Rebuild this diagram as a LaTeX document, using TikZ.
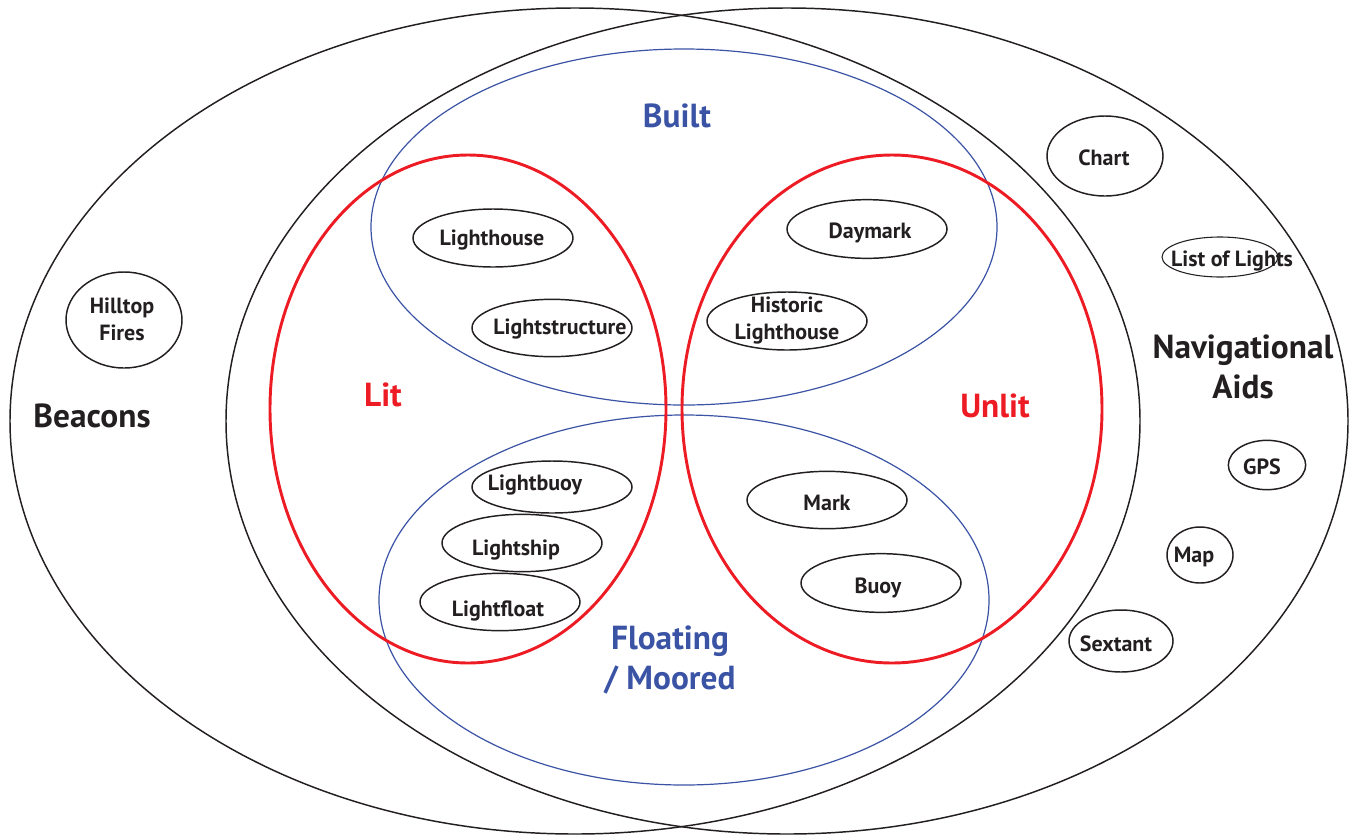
\documentclass[tikz,border=0pt]{standalone}
\usepackage{fontspec}
\setmainfont{PT Sans}
\usetikzlibrary{shapes.geometric}
\definecolor{litred}{HTML}{ED1C24}
\definecolor{setblue}{HTML}{3A53A4}
\definecolor{ink}{HTML}{231F20}
\tikzset{
  outer/.style={draw=ink, line width=1.1pt},
  redset/.style={draw=litred, line width=2.2pt},
  blueset/.style={draw=setblue, line width=0.9pt},
  ring/.style={ellipse, draw=ink, line width=1.1pt, inner sep=0pt},
  itemtext/.style={align=center, inner sep=0pt, text=ink, yshift=-1.8pt,
    font=\fontsize{16.5}{20}\selectfont\bfseries},
  biglabel/.style={align=center, font=\fontsize{25}{30}\selectfont\bfseries},
}
\begin{document}
\begin{tikzpicture}[x=0.75pt,y=-0.75pt]
\useasboundingbox (0,0) rectangle (1356,836);
% outer sets
\draw[outer] (575,421) ellipse (565 and 413);
\draw[outer] (787,421) ellipse (561 and 413);
% built / floating
\draw[blueset] (684,227) ellipse (313 and 178);
\draw[blueset] (684,600) ellipse (305 and 185);
% lit / unlit
\draw[redset] (468,409) ellipse (198 and 254);
\draw[redset] (892,409) ellipse (210 and 254);

% set labels
\node[biglabel, text=ink] (beacons) at (92,416) {Beacons};
\node[biglabel, text=ink] (navaids) at (1243,367) {Navigational\\Aids};
\node[biglabel, text=setblue] (built) at (677,116) {Built};
\node[biglabel, text=setblue] (floating) at (670,660) {Floating\\/ Moored};
\node[biglabel, text=litred] (lit) at (383,395) {Lit};
\node[biglabel, text=litred] (unlit) at (995,406) {Unlit};

% member outlines (sizes in px: width x height)
\node[ring, minimum width=120pt, minimum height=43.5pt] (lighthouse) at (493,238) {};
\node[ring, minimum width=120pt, minimum height=43pt] (lightstructure) at (552,328) {};
\node[ring, minimum width=120pt, minimum height=44pt] (daymark) at (867,229) {};
\node[ring, minimum width=120pt, minimum height=43.5pt] (historic) at (787,321) {};
\node[ring, minimum width=120pt, minimum height=39pt] (lightbuoy) at (552,487) {};
\node[ring, minimum width=120pt, minimum height=43pt] (lightship) at (522,543) {};
\node[ring, minimum width=120pt, minimum height=43pt] (lightfloat) at (500,602) {};
\node[ring, minimum width=120pt, minimum height=43pt] (mark) at (827,500) {};
\node[ring, minimum width=120pt, minimum height=44pt] (buoy) at (881,583) {};
\node[ring, minimum width=87pt, minimum height=72pt] (hilltop) at (124,320) {};
\node[ring, minimum width=87pt, minimum height=60pt] (chart) at (1105,156) {};
\node[ring, minimum width=87pt, minimum height=30pt, line width=0.8pt] (lights) at (1220,257) {};
\node[ring, minimum width=58pt, minimum height=37pt] (gps) at (1267,465) {};
\node[ring, minimum width=49.5pt, minimum height=42pt] (map) at (1200,555) {};
\node[ring, minimum width=78pt, minimum height=46.5pt] (sextant) at (1121,641) {};

% member names
\node[itemtext] (lighthouse-t) at (492,238) {Lighthouse};
\node[itemtext] (lightstructure-t) at (560,327) {Lightstructure};
\node[itemtext] (daymark-t) at (870,231) {Daymark};
\node[itemtext] (historic-t) at (787,318) {Historic\\Lighthouse};
\node[itemtext] (lightbuoy-t) at (535,483) {Lightbuoy};
\node[itemtext] (lightship-t) at (516,548) {Lightship};
\node[itemtext] (lightfloat-t) at (498,609) {Lightfloat};
\node[itemtext] (mark-t) at (827,500) {Mark};
\node[itemtext] (buoy-t) at (878,586) {Buoy};
\node[itemtext] (hilltop-t) at (122,317) {Hilltop\\Fires};
\node[itemtext] (chart-t) at (1104,155) {Chart};
\node[itemtext] (lights-t) at (1232,259) {List of Lights};
\node[itemtext] (gps-t) at (1262,464) {GPS};
\node[itemtext] (map-t) at (1194,555) {Map};
\node[itemtext] (sextant-t) at (1116,641) {Sextant};
\end{tikzpicture}
\end{document}
